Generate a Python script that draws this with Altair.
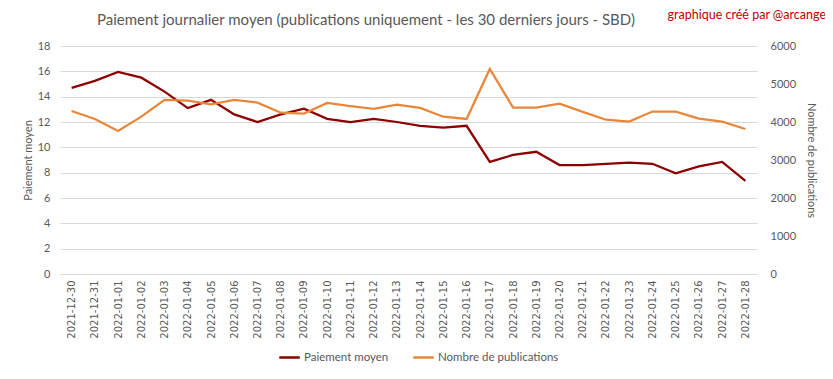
import altair as alt
import pandas as pd

dates = [
    "2021-12-30", "2021-12-31", "2022-01-01", "2022-01-02", "2022-01-03", "2022-01-04",
    "2022-01-05", "2022-01-06", "2022-01-07", "2022-01-08", "2022-01-09", "2022-01-10",
    "2022-01-11", "2022-01-12", "2022-01-13", "2022-01-14", "2022-01-15", "2022-01-16",
    "2022-01-17", "2022-01-18", "2022-01-19", "2022-01-20", "2022-01-21", "2022-01-22",
    "2022-01-23", "2022-01-24", "2022-01-25", "2022-01-26", "2022-01-27", "2022-01-28",
]
paiement = [
    14.7, 15.25, 15.95, 15.5, 14.4, 13.1,
    13.75, 12.6, 12.0, 12.6, 13.05, 12.25,
    12.0, 12.25, 12.0, 11.7, 11.55, 11.7,
    8.85, 9.4, 9.65, 8.6, 8.6, 8.7,
    8.8, 8.7, 7.95, 8.5, 8.85, 7.35,
]
publications = [
    4290, 4080, 3765, 4140, 4580, 4560,
    4465, 4580, 4510, 4245, 4220, 4500,
    4420, 4345, 4455, 4370, 4140, 4080,
    5395, 4380, 4380, 4480, 4265, 4060,
    4010, 4275, 4275, 4090, 4010, 3815,
]
series = ["Paiement moyen", "Nombre de publications"]
title_text = ["Paiement journalier moyen (publications uniquement  - les 30 derniers jours - SBD)"]
credit_text = ["graphique créé par @arcange"]

df = pd.DataFrame({"date": dates, "paiement": paiement, "publications": publications})

grey = "#595959"
grid = "#D9D9D9"
font = "Lato"

x = alt.X(
    "date:O",
    sort=None,
    scale=alt.Scale(type="point", padding=0.5),
    axis=alt.Axis(
        title=None, labelAngle=-90, ticks=False, domainColor=grid, labelColor=grey,
        labelFont="DejaVu Sans", labelFontSize=10, labelPadding=6, grid=False,
    ),
)

color = alt.Color(
    "serie:N",
    scale=alt.Scale(domain=series, range=["#8B0000", "#E8873A"]),
    legend=alt.Legend(
        title=None, orient="none", direction="horizontal", legendX=218, legendY=300,
        symbolType="stroke", symbolStrokeWidth=2.5, symbolSize=420, labelColor=grey,
        labelFont=font, labelFontSize=11.5, columnPadding=19, labelOffset=3,
    ),
)

base = alt.Chart(df)

l1 = base.transform_calculate(serie=f"'{series[0]}'").mark_line(strokeWidth=2.25).encode(
    x=x,
    y=alt.Y("paiement:Q", scale=alt.Scale(domain=[0, 18]),
            axis=alt.Axis(title="Paiement moyen", values=list(range(0, 19, 2)), domain=False,
                          ticks=False, gridColor=grid, labelColor=grey, titleColor=grey,
                          labelFont=font, titleFont=font, labelFontSize=11, titleFontSize=11,
                          titleFontWeight="normal", labelPadding=10, titlePadding=4)),
    color=color,
)

l2 = base.transform_calculate(serie=f"'{series[1]}'").mark_line(strokeWidth=2.25).encode(
    x=x,
    y=alt.Y("publications:Q", scale=alt.Scale(domain=[0, 6000]),
            axis=alt.Axis(title="Nombre de publications", orient="right",
                          values=list(range(0, 6001, 1000)), format="d", domain=False,
                          ticks=False, grid=False, labelColor=grey, titleColor=grey,
                          labelFont=font, titleFont=font, labelFontSize=11, titleFontSize=11,
                          titleFontWeight="normal", labelPadding=13, titlePadding=10)),
    color=color,
)

title = alt.Chart(pd.DataFrame({"t": title_text})).mark_text(
    align="left", baseline="middle", color=grey, font=font, fontSize=15
).encode(text="t:N", x=alt.value(37), y=alt.value(-26))

credit = alt.Chart(pd.DataFrame({"t": credit_text})).mark_text(
    align="right", baseline="middle", color="#C00000", font=font, fontSize=12.5
).encode(text="t:N", x=alt.value(766), y=alt.value(-31))

chart = alt.layer(l1, l2, title, credit).resolve_scale(y="independent").properties(
    width=697,
    height=228,
    autosize=alt.AutoSizeParams(type="none"),
    padding={"left": 52, "top": 38, "right": 68, "bottom": 97},
).configure_view(stroke=None)

chart.save("out.html", embed_options={"renderer": "svg", "actions": False})
